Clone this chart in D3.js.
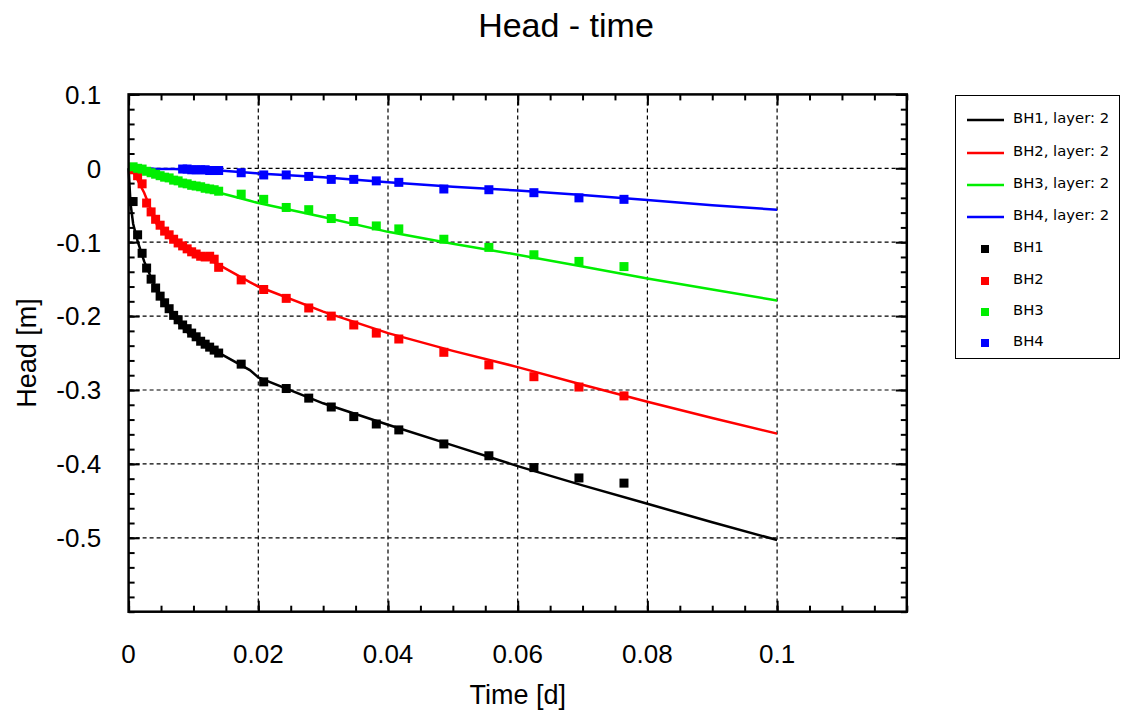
<!DOCTYPE html>
<html>
<head>
<meta charset="utf-8">
<script src="https://cdn.jsdelivr.net/npm/d3@7"></script>
<style>
  body { margin: 0; background: #fff; }
  svg { display: block; }
</style>
</head>
<body>
<script>
// Observation times (minutes) shared by BH1-BH3
var obsMinutes = [1, 2, 3, 4, 5, 6, 7, 8, 9, 10, 11, 12, 13, 14, 15, 16, 17, 18, 19, 20,
                  25, 30, 35, 40, 45, 50, 55, 60, 70, 80, 90, 100, 110];
var bh1Obs = [-0.045, -0.090, -0.115, -0.135, -0.150, -0.162, -0.173, -0.182, -0.190, -0.199,
              -0.205, -0.212, -0.217, -0.223, -0.228, -0.234, -0.238, -0.242, -0.246, -0.250,
              -0.265, -0.289, -0.298, -0.311, -0.323, -0.336, -0.346, -0.354,
              -0.373, -0.389, -0.405, -0.419, -0.426];
var bh2Obs = [-0.002, -0.010, -0.021, -0.047, -0.059, -0.069, -0.077, -0.085, -0.090, -0.096,
              -0.101, -0.105, -0.109, -0.113, -0.116, -0.119, -0.120, -0.119, -0.123, -0.134,
              -0.151, -0.164, -0.176, -0.189, -0.200, -0.212, -0.223, -0.231,
              -0.249, -0.266, -0.282, -0.296, -0.308];
var bh3Obs = [0.002, 0.000, -0.001, -0.004, -0.006, -0.008, -0.010, -0.012, -0.013, -0.016,
              -0.017, -0.020, -0.021, -0.023, -0.024, -0.025, -0.027, -0.028, -0.029, -0.031,
              -0.035, -0.042, -0.053, -0.056, -0.068, -0.072, -0.078, -0.082,
              -0.096, -0.107, -0.117, -0.126, -0.133];
// BH4 readings start later
var bh4Minutes = [12, 13, 14, 15, 16, 17, 18, 19, 20,
                  25, 30, 35, 40, 45, 50, 55, 60, 70, 80, 90, 100, 110];
var bh4Obs = [-0.001, -0.001, -0.002, -0.002, -0.002, -0.002, -0.003, -0.003, -0.003,
              -0.006, -0.009, -0.009, -0.011, -0.015, -0.015, -0.017, -0.019,
              -0.028, -0.029, -0.033, -0.040, -0.042];

// Model curves (time in days)
var modelTime = [0, 0.0003, 0.0007, 0.0014, 0.0024, 0.0044, 0.007, 0.0095, 0.014, 0.0187,
                 0.02, 0.03, 0.04, 0.05, 0.06, 0.07, 0.08, 0.09, 0.1];
var bh1Model = [0, -0.048, -0.075, -0.099, -0.126, -0.167, -0.203, -0.226, -0.250, -0.273,
                -0.283, -0.318, -0.347, -0.375, -0.403, -0.429, -0.454, -0.479, -0.503];
var bh2Model = [0, -0.001, -0.004, -0.016, -0.033, -0.077, -0.095, -0.108, -0.131, -0.154,
                -0.160, -0.194, -0.223, -0.247, -0.269, -0.293, -0.316, -0.338, -0.359];
var bh3Model = [0, 0, -0.001, -0.002, -0.004, -0.008, -0.014, -0.020, -0.033, -0.044,
                -0.047, -0.066, -0.086, -0.102, -0.117, -0.133, -0.149, -0.164, -0.179];
var bh4Model = [0, 0, 0, 0, 0, -0.001, -0.001, -0.002, -0.003, -0.006,
                -0.007, -0.012, -0.019, -0.025, -0.030, -0.036, -0.043, -0.050, -0.056];

// Axis ticks
var xTicks = [0, 0.02, 0.04, 0.06, 0.08, 0.1];
var yTicks = [0.1, 0, -0.1, -0.2, -0.3, -0.4, -0.5];
var xMinorTicks = d3.range(0, 0.1201, 0.005);
var yMinorTicks = d3.range(-0.6, 0.1001, 0.02);

var lineNames = ["BH1, layer: 2", "BH2, layer: 2", "BH3, layer: 2", "BH4, layer: 2"];
var obsNames = ["BH1", "BH2", "BH3", "BH4"];
var colors = ["#000000", "#ff0000", "#00ee00", "#0000ff"];

// Plot box
var box = { left: 128.6, top: 94.4, right: 906.8, bottom: 611.7 };
var width = box.right - box.left, height = box.bottom - box.top;

var svg = d3.select("body").append("svg")
    .attr("width", 1121)
    .attr("height", 720);

var x = d3.scaleLinear().domain([0, 0.12]).range([0, width]);
var y = d3.scaleLinear().domain([-0.6, 0.1]).range([height, 0]);

var g = svg.append("g").attr("transform", `translate(${box.left},${box.top})`);

// Dashed grid
g.selectAll(".vgrid")
    .data(xTicks.filter(d => d > 0))
    .enter().append("line")
    .attr("x1", d => x(d)).attr("x2", d => x(d))
    .attr("y1", 0).attr("y2", height)
    .attr("stroke", "#000").attr("stroke-width", 1.2)
    .attr("stroke-dasharray", "4,3");
g.selectAll(".hgrid")
    .data(yTicks.filter(d => d < 0.1))
    .enter().append("line")
    .attr("x1", 0).attr("x2", width)
    .attr("y1", d => y(d)).attr("y2", d => y(d))
    .attr("stroke", "#000").attr("stroke-width", 1.2)
    .attr("stroke-dasharray", "4,3");

// Inward ticks on all four sides
function tickAxis(axisFn, scale, values, size, transform) {
  var a = g.append("g")
      .attr("transform", transform)
      .call(axisFn(scale).tickValues(values).tickSize(-size).tickFormat(""));
  a.select(".domain").remove();
  a.selectAll(".tick line").attr("stroke", "#000").attr("stroke-width", 2);
}
tickAxis(d3.axisBottom, x, xMinorTicks, 6, `translate(0,${height})`);
tickAxis(d3.axisBottom, x, xTicks, 11, `translate(0,${height})`);
tickAxis(d3.axisTop, x, xMinorTicks, 6, "translate(0,0)");
tickAxis(d3.axisTop, x, xTicks, 11, "translate(0,0)");
tickAxis(d3.axisLeft, y, yMinorTicks, 6, "translate(0,0)");
tickAxis(d3.axisLeft, y, yTicks, 11, "translate(0,0)");
tickAxis(d3.axisRight, y, yMinorTicks, 6, `translate(${width},0)`);
tickAxis(d3.axisRight, y, yTicks, 11, `translate(${width},0)`);

// Model lines
var series = [
  { model: bh1Model, minutes: obsMinutes, obs: bh1Obs },
  { model: bh2Model, minutes: obsMinutes, obs: bh2Obs },
  { model: bh3Model, minutes: obsMinutes, obs: bh3Obs },
  { model: bh4Model, minutes: bh4Minutes, obs: bh4Obs }
];

var valueLine = d3.line()
    .x(d => x(d[0]))
    .y(d => y(d[1]));

series.forEach(function (s, i) {
  g.append("path")
      .datum(modelTime.map((t, j) => [t, s.model[j]]))
      .attr("fill", "none")
      .attr("stroke", colors[i])
      .attr("stroke-width", 2.5)
      .attr("d", valueLine);
});

// Observation markers
var ms = 9;
series.forEach(function (s, i) {
  g.selectAll(".obs" + i)
      .data(s.minutes.map((m, j) => [m / 1440, s.obs[j]]))
      .enter().append("rect")
      .attr("x", d => x(d[0]) - ms / 2)
      .attr("y", d => y(d[1]) - ms / 2)
      .attr("width", ms)
      .attr("height", ms)
      .attr("fill", colors[i]);
});

// Plot border
g.append("rect")
    .attr("width", width).attr("height", height)
    .attr("fill", "none")
    .attr("stroke", "#000")
    .attr("stroke-width", 2.5);

// Tick labels
var font = "'Liberation Sans', Arial, sans-serif";
g.selectAll(".xlab")
    .data(xTicks)
    .enter().append("text")
    .attr("x", d => x(d))
    .attr("y", height + 51.5)
    .attr("text-anchor", "middle")
    .style("font-family", font).style("font-size", "26px")
    .text(d => String(d));
g.selectAll(".ylab")
    .data(yTicks)
    .enter().append("text")
    .attr("x", -27.5)
    .attr("y", d => y(d))
    .attr("dy", "0.36em")
    .attr("text-anchor", "end")
    .style("font-family", font).style("font-size", "26px")
    .text(d => String(d));

// Title and axis labels
svg.append("text")
    .attr("x", 566).attr("y", 37)
    .attr("text-anchor", "middle")
    .style("font-family", font).style("font-size", "34px")
    .text("Head - time");
svg.append("text")
    .attr("x", box.left + width / 2).attr("y", 704)
    .attr("text-anchor", "middle")
    .style("font-family", font).style("font-size", "27px")
    .text("Time [d]");
svg.append("text")
    .attr("transform", `translate(36,${box.top + height / 2}) rotate(-90)`)
    .attr("text-anchor", "middle")
    .style("font-family", font).style("font-size", "27px")
    .text("Head [m]");

// Legend
var legend = svg.append("g");
legend.append("rect")
    .attr("x", 955.5).attr("y", 95.5)
    .attr("width", 164).attr("height", 263)
    .attr("fill", "#fff")
    .attr("stroke", "#000")
    .attr("stroke-width", 1);
var legFont = "'DejaVu Sans', Tahoma, sans-serif";
var lineRows = [120, 153, 185, 217];
var markRows = [249, 281, 312, 343];
lineNames.forEach(function (name, i) {
  legend.append("line")
      .attr("x1", 967).attr("x2", 1004)
      .attr("y1", lineRows[i]).attr("y2", lineRows[i])
      .attr("stroke", colors[i]).attr("stroke-width", 2.5);
  legend.append("text")
      .attr("x", 1013).attr("y", lineRows[i] - 2)
      .attr("dy", "0.35em")
      .style("font-family", legFont).style("font-size", "14.8px")
      .text(name);
});
obsNames.forEach(function (name, i) {
  legend.append("rect")
      .attr("x", 985 - 4).attr("y", markRows[i] - 4)
      .attr("width", 8).attr("height", 8)
      .attr("fill", colors[i]);
  legend.append("text")
      .attr("x", 1013).attr("y", markRows[i] - 2)
      .attr("dy", "0.35em")
      .style("font-family", legFont).style("font-size", "14.8px")
      .text(name);
});
</script>
</body>
</html>
